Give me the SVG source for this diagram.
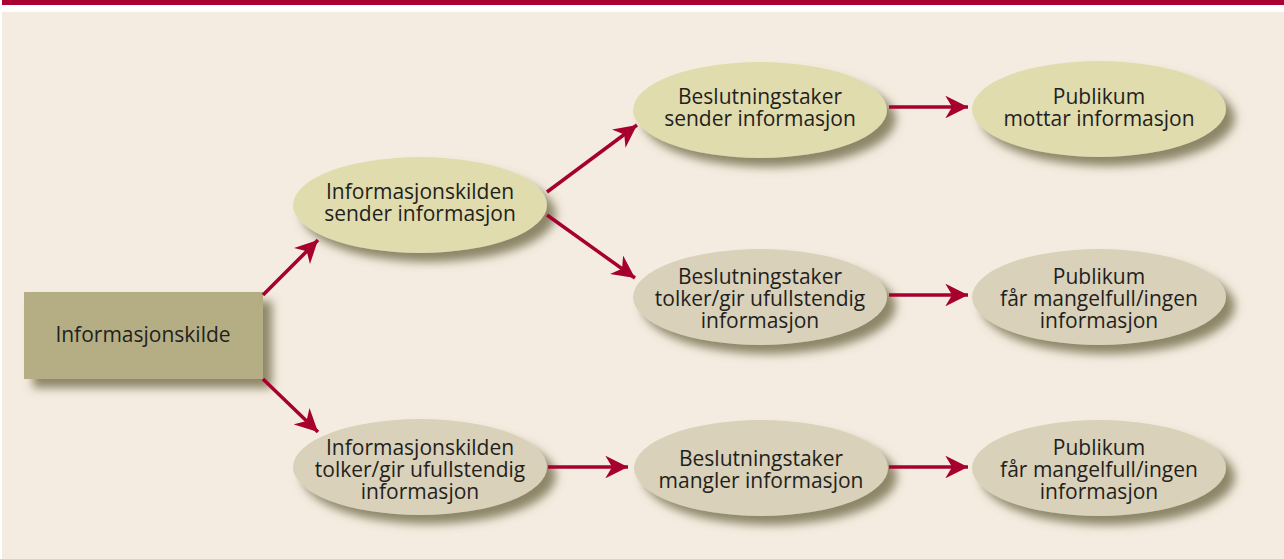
<svg xmlns="http://www.w3.org/2000/svg" width="1284" height="559" viewBox="0 0 1284 559">
<defs>
<filter id="sh" x="-20%" y="-30%" width="150%" height="170%">
<feGaussianBlur in="SourceAlpha" stdDeviation="5"/>
<feOffset dx="9" dy="9" result="b"/>
<feFlood flood-color="#6b6440" flood-opacity="0.75"/>
<feComposite in2="b" operator="in"/>
<feMerge><feMergeNode/><feMergeNode in="SourceGraphic"/></feMerge>
</filter>
<marker id="ah" viewBox="0 0 10 10" refX="10" refY="5" markerWidth="6.5" markerHeight="6.5" markerUnits="strokeWidth" orient="auto">
<path d="M0,0 L10,5 L0,10 L3,5 Z" fill="#a6002f"/>
</marker>
</defs>
<style>
.y{fill:#e0dcae;filter:url(#sh)}
.g{fill:#d9d1b9;filter:url(#sh)}
.r{fill:#b5ae84;filter:url(#sh)}
text{font-family:"Open Sans","Noto Sans","Liberation Sans",sans-serif;font-size:21px;fill:#231f20;text-anchor:middle}
.c line{stroke:#a6002f;stroke-width:3.5;marker-end:url(#ah)}
</style>
<rect x="2" y="0" width="1282" height="5" fill="#ab0033"/>
<rect x="2" y="12" width="1282" height="547" fill="#f4ece0"/>
<g id="n0"><rect class="r" x="24" y="292" width="239" height="87"/><text x="143" y="342">Informasjonskilde</text></g>
<g id="n1"><ellipse class="y" cx="420" cy="205" rx="127" ry="48"/><text x="420" y="199">Informasjonskilden</text><text x="420" y="221">sender informasjon</text></g>
<g id="n2"><ellipse class="y" cx="760" cy="110" rx="127" ry="48"/><text x="760" y="104">Beslutningstaker</text><text x="760" y="126">sender informasjon</text></g>
<g id="n3"><ellipse class="y" cx="1099" cy="109" rx="127" ry="48"/><text x="1099" y="104">Publikum</text><text x="1099" y="126">mottar informasjon</text></g>
<g id="n4"><ellipse class="g" cx="760" cy="297" rx="127" ry="48"/><text x="760" y="284">Beslutningstaker</text><text x="760" y="306">tolker/gir ufullstendig</text><text x="760" y="328">informasjon</text></g>
<g id="n5"><ellipse class="g" cx="1099" cy="297" rx="127" ry="48"/><text x="1099" y="284">Publikum</text><text x="1099" y="306">får mangelfull/ingen</text><text x="1099" y="328">informasjon</text></g>
<g id="n6"><ellipse class="g" cx="420" cy="467" rx="127" ry="48"/><text x="420" y="455">Informasjonskilden</text><text x="420" y="477">tolker/gir ufullstendig</text><text x="420" y="499">informasjon</text></g>
<g id="n7"><ellipse class="g" cx="761" cy="468" rx="127" ry="48"/><text x="761" y="466">Beslutningstaker</text><text x="761" y="488">mangler informasjon</text></g>
<g id="n8"><ellipse class="g" cx="1099" cy="468" rx="127" ry="48"/><text x="1099" y="455">Publikum</text><text x="1099" y="477">får mangelfull/ingen</text><text x="1099" y="499">informasjon</text></g>
<g id="connectors" class="c">
<line x1="263" y1="295" x2="318" y2="240"/>
<line x1="263" y1="379" x2="318" y2="432"/>
<line x1="547" y1="192" x2="637" y2="125"/>
<line x1="547" y1="215" x2="635" y2="278"/>
<line x1="889" y1="107" x2="968" y2="107"/>
<line x1="889" y1="295" x2="968" y2="295"/>
<line x1="548" y1="467" x2="628" y2="467"/>
<line x1="889" y1="467" x2="968" y2="467"/>
</g>
</svg>
